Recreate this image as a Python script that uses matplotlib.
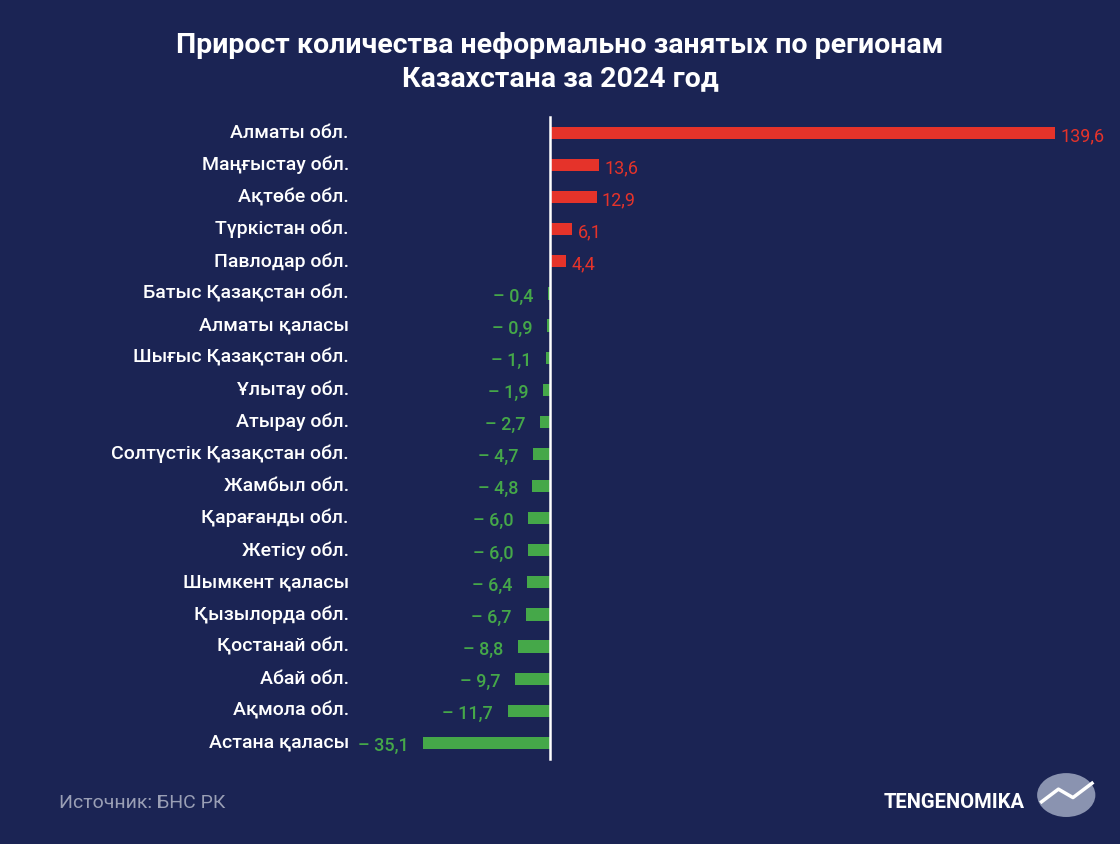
import matplotlib.pyplot as plt
from matplotlib.patches import Circle

plt.rcParams["font.family"] = "Roboto"

regions = ["Алматы обл.", "Маңғыстау обл.", "Ақтөбе обл.", "Түркістан обл.", "Павлодар обл.",
           "Батыс Қазақстан обл.", "Алматы қаласы", "Шығыс Қазақстан обл.", "Ұлытау обл.",
           "Атырау обл.", "Солтүстік Қазақстан обл.", "Жамбыл обл.", "Қарағанды обл.",
           "Жетісу обл.", "Шымкент қаласы", "Қызылорда обл.", "Қостанай обл.", "Абай обл.",
           "Ақмола обл.", "Астана қаласы"]
values = [139.6, 13.6, 12.9, 6.1, 4.4, -0.4, -0.9, -1.1, -1.9, -2.7, -4.7, -4.8, -6.0,
          -6.0, -6.4, -6.7, -8.8, -9.7, -11.7, -35.1]

bg = "#1b2454"
red = "#e5332a"
green = "#45a849"

fig = plt.figure(figsize=(11.2, 8.44), dpi=100, facecolor=bg)
ax = fig.add_axes([0, 0, 1, 1], facecolor=bg)
ax.set_xlim(-151.9, 157.5)
ax.set_ylim(22.15, -4.14)
ax.axis("off")

ypos = list(range(len(values)))
colors = [red if v > 0 else green for v in values]
ax.barh(ypos, values, height=0.38, color=colors, zorder=2)
ax.plot([0, 0], [-0.5, 19.5], color="white", lw=1.8, zorder=3)

for y, name, v in zip(ypos, regions, values):
    ax.text(-55.5, y, name, color="white", fontsize=14, fontweight="medium",
            ha="right", va="center")
    s = f"{abs(v):.1f}".replace(".", ",")
    if v > 0:
        ax.text(v + 1.5, y + 0.1, s, color=red, fontsize=13, ha="left", va="center")
    else:
        ax.text(v - 4, y + 0.1, "– " + s, color=green, fontsize=13, fontweight="medium",
                ha="right", va="center")

fig.text(0.5, 0.926, "Прирост количества неформально занятых по регионам\nКазахстана за 2024 год",
         color="white", fontsize=20.5, fontweight="bold", ha="center", va="center", linespacing=1.3)
fig.text(0.053, 0.049, "Источник: БНС РК", color="#9a9fb5", fontsize=14, ha="left", va="center")
fig.text(0.915, 0.049, "TENGENOMIKA", color="white", fontsize=14.5, fontweight="bold",
         ha="right", va="center")
fig.patches.append(Circle((0.952, 0.058), 0.026, transform=fig.transFigure,
                          facecolor="#8a93b0", edgecolor="none"))
fig.lines.append(plt.Line2D([0.93, 0.945, 0.958, 0.975], [0.05, 0.065, 0.055, 0.072],
                            transform=fig.transFigure, color="white", lw=2.5))

fig.savefig("out.png", dpi=100, facecolor=bg)
